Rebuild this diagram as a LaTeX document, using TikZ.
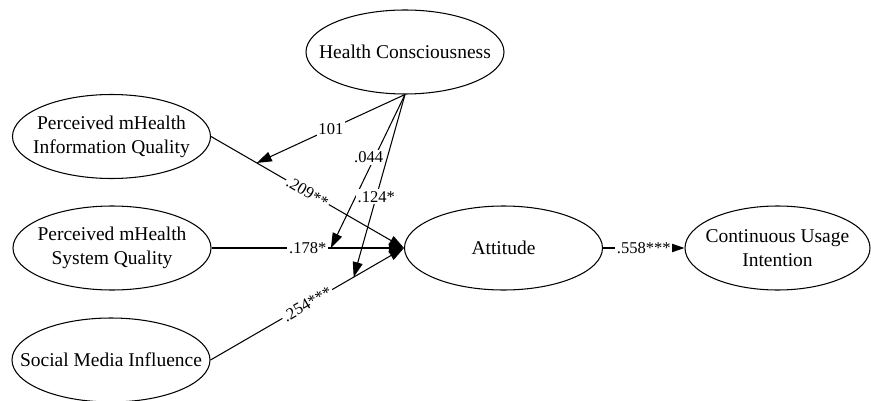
\documentclass[tikz,border=0pt]{standalone}
\usepackage{fontspec}
\setmainfont{Liberation Serif}
\usetikzlibrary{arrows.meta,shapes.geometric}
\begin{document}
\begin{tikzpicture}[>={Triangle[length=3mm,width=2mm]},line width=0.6pt,
var/.style={ellipse,draw,inner sep=0pt,minimum width=3.96cm,minimum height=1.68cm},
txt/.style={align=center,inner sep=0pt,font=\fontsize{11.1}{13.6}\selectfont},
coef/.style={fill=white,inner sep=1pt,font=\fontsize{9.4}{11}\selectfont}]
\useasboundingbox(0,0)rectangle(17.42,-8);
\node[var,label={[txt]center:Health Consciousness}](hc)at(8.10,-1.04){};
\node[var,label={[txt]center:{Perceived mHealth\\Information Quality}}](piq)at(2.23,-2.73){};
\node[var,label={[txt]center:{Perceived mHealth\\System Quality}}](psq)at(2.24,-4.96){};
\node[var,label={[txt]center:Social Media Influence}](smi)at(2.22,-7.2){};
\node[var,label={[txt]center:Attitude}](att)at(10.07,-4.96){};
\node[var,minimum width=3.7cm,label={[txt]center:{Continuous Usage\\Intention}}](cui)at(15.55,-4.96){};
\draw[->](piq.east)--node[coef,sloped]{.209**}coordinate[pos=0.237](m1)(att.west);
\draw[->,line width=1.1pt](psq.east)--node[coef]{.178*}coordinate[pos=0.62](m2)(att.west);
\draw[->](smi.east)--node[coef,sloped]{.254***}coordinate[pos=0.74](m3)(att.west);
\draw[->](att.east)--node[coef]{.558***}(cui.west);
\draw[->](hc.south)--node[coef]{101}(m1);
\draw[->](hc.south)--node[coef,pos=0.41,xshift=-0.12cm]{.044}(m2);
\draw[->](hc.south)--node[coef,pos=0.56]{.124*}(m3);
\end{tikzpicture}
\end{document}
